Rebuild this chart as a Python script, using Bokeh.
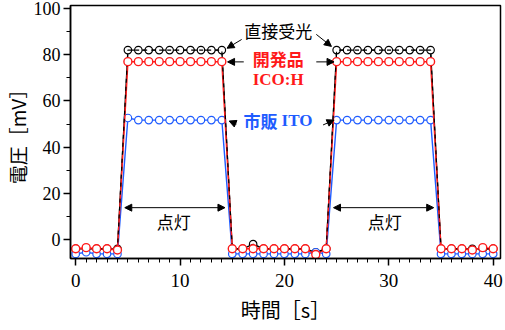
from bokeh.plotting import figure
from bokeh.models import Range1d, SingleIntervalTicker, Label, Arrow, NormalHead, ColumnDataSource
from bokeh.embed import file_html
from bokeh.resources import INLINE

# ---- data ----
time_s = list(range(0, 41))
direct_light = [-4, -4, -4, -4, -4,
                82, 82, 82, 82, 82, 82, 82, 82, 82, 82,
                -4, -4, -2, -4, -4, -4, -4, -4, -5.5, -4,
                82, 82, 82, 82, 82, 82, 82, 82, 82, 82,
                -4, -4, -4, -4, -4, -4]
ico_h = [-4, -3.5, -4, -4, -4.5,
         77, 77, 77, 77, 77, 77, 77, 77, 77, 77,
         -4, -4, -4, -4, -4, -4, -4, -4, -6.5, -4,
         77, 77, 77, 77, 77, 77, 77, 77, 77, 77,
         -4, -4, -4, -4.5, -3.5, -4]
ito = [-6.2, -5.5, -6.2, -6.2, -6.2,
       52.6, 51.7, 51.7, 51.7, 51.7, 51.7, 51.7, 51.7, 51.7, 51.7,
       -6.2, -6.2, -6.2, -6.2, -6.2, -6.2, -6.2, -6.2, -5.5, -6.2,
       51.7, 51.7, 51.7, 51.7, 51.7, 51.7, 51.7, 51.7, 51.7, 51.7,
       -6.2, -6.2, -6.2, -6.2, -6.2, -6.2]

x_label = "時間［s］"
y_label = "電圧［mV］"

RED = "#ff1a1a"
BLUE = "#1f5cff"
BLACK = "#000000"

src = ColumnDataSource(dict(t=time_s, d=direct_light, r=ico_h, b=ito))

p = figure(width=505, height=330, output_backend="svg", toolbar_location=None,
           x_range=Range1d(-0.5, 40.7), y_range=Range1d(-8.2, 101.3),
           min_border_left=68, min_border_right=5, min_border_top=5, min_border_bottom=72)

p.xgrid.visible = False
p.ygrid.visible = False
p.outline_line_color = "black"
p.outline_line_width = 1.5
p.background_fill_color = "white"

# series
p.line("t", "d", source=src, color=BLACK, line_width=1.3)
p.scatter("t", "d", source=src, marker="circle", size=7.5, fill_color="white", line_color=BLACK, line_width=1.2)
p.line("t", "b", source=src, color=BLUE, line_width=1.4)
p.scatter("t", "b", source=src, marker="circle", size=7.5, fill_color="white", line_color=BLUE, line_width=1.2)
p.line("t", "r", source=src, color=RED, line_width=1.5)
p.line("t", "d", source=src, color=BLACK, line_width=1.2, line_dash="4 4")
p.scatter("t", "r", source=src, marker="circle", size=8, fill_color="white", line_color=RED, line_width=1.4)

# axes
for ax in (p.xaxis[0], p.yaxis[0]):
    ax.axis_line_width = 1.5
    ax.major_tick_line_width = 1.5
    ax.major_tick_out = 7
    ax.major_tick_in = 0
    ax.minor_tick_out = 4
    ax.minor_tick_in = 0
    ax.major_label_text_font = "Liberation Serif"
    ax.major_label_text_font_size = "19px"
    ax.major_label_text_color = "black"
    ax.axis_label_text_font = "Noto Sans CJK JP"
    ax.axis_label_text_font_style = "normal"
    ax.axis_label_text_color = "black"

p.xaxis.axis_label_text_font_size = "20px"
p.yaxis.axis_label_text_font_size = "19px"
p.yaxis.major_label_text_font_size = "18px"
p.xaxis.ticker = SingleIntervalTicker(interval=10, num_minor_ticks=10)
p.yaxis.ticker = SingleIntervalTicker(interval=20, num_minor_ticks=2)
p.xaxis.axis_label = x_label
p.yaxis.axis_label = y_label
p.xaxis.major_label_standoff = 8
p.yaxis.major_label_standoff = 3
p.xaxis.axis_label_standoff = 5
p.yaxis.axis_label_standoff = 0

# annotations
def lab(x, y, text, color="black", font="Noto Sans CJK JP", style="normal"):
    p.add_layout(Label(x=x, y=y, text=text, text_color=color, text_font=font,
                       text_font_size="17px", text_font_style=style,
                       text_align="center", text_baseline="middle"))

lab(19.4, 90.5, "直接受光")
lab(19.4, 78.4, "開発品", RED, style="bold")
lab(19.4, 69.4, "ICO:H", RED, font="Liberation Serif", style="bold")
lab(17.7, 51.7, "市販", BLUE, style="bold")
lab(21.2, 51.7, "ITO", BLUE, font="Liberation Serif", style="bold")
lab(9.4, 7.8, "点灯")
lab(29.6, 7.8, "点灯")

def arr(x0, y0, x1, y1, both=False):
    head = NormalHead(size=7, fill_color="black", line_color="black")
    kw = dict(x_start=x0, y_start=y0, x_end=x1, y_end=y1, line_color="black", line_width=1, end=head)
    if both:
        kw["start"] = NormalHead(size=7, fill_color="black", line_color="black")
    else:
        kw["start"] = None
    p.add_layout(Arrow(**kw))

arr(15.9, 86.6, 14.5, 82.8)
arr(23.05, 88.8, 24.5, 83.6)
arr(16.1, 76.9, 14.55, 76.9)
arr(23.05, 76.9, 24.75, 76.9)
arr(15.4, 50.0, 14.7, 51.3)
arr(23.7, 49.6, 24.75, 51.7)
arr(4.7, 13.8, 14.3, 13.8, both=True)
arr(24.7, 13.8, 34.3, 13.8, both=True)

open("out.html", "w").write(file_html(p, INLINE))
